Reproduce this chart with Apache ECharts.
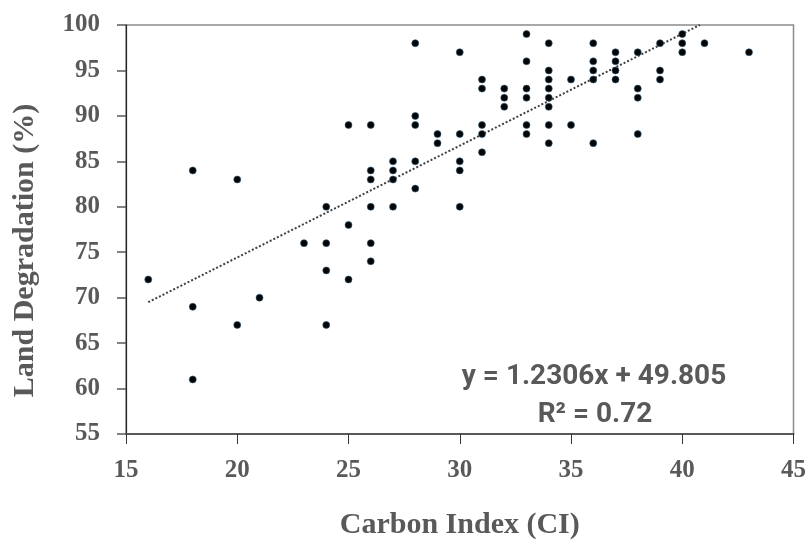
<!DOCTYPE html>
<html>
<head>
<meta charset="utf-8">
<script src="https://cdn.jsdelivr.net/npm/echarts@6/dist/echarts.min.js"></script>
<style>
html,body{margin:0;padding:0;background:#ffffff;}
#chart{width:809px;height:545px;}
</style>
</head>
<body>
<div id="chart"></div>
<script>
// Scatter data
const carbonIndex = [
  16,
  18, 18, 18,
  20, 20,
  21,
  23,
  24, 24, 24, 24,
  25, 25, 25,
  26, 26, 26, 26, 26, 26,
  27, 27, 27, 27,
  28, 28, 28, 28, 28,
  29, 29,
  30, 30, 30, 30, 30,
  31, 31, 31, 31, 31,
  32, 32, 32,
  33, 33, 33, 33, 33, 33,
  34, 34, 34, 34, 34, 34, 34, 34,
  35, 35,
  36, 36, 36, 36, 36,
  37, 37, 37, 37,
  38, 38, 38, 38,
  39, 39, 39,
  40, 40, 40,
  41,
  43
];
const landDegradation = [
  72,
  84, 69, 61,
  83, 67,
  70,
  76,
  80, 76, 73, 67,
  89, 78, 72,
  89, 84, 83, 80, 76, 74,
  85, 84, 83, 80,
  98, 90, 89, 85, 82,
  88, 87,
  97, 88, 85, 84, 80,
  94, 93, 89, 88, 86,
  93, 92, 91,
  99, 96, 93, 92, 89, 88,
  98, 95, 94, 93, 92, 91, 89, 87,
  94, 89,
  98, 96, 95, 94, 87,
  97, 96, 95, 94,
  97, 93, 92, 88,
  98, 95, 94,
  99, 98, 97,
  98,
  97
];
// Trend line end points
const trendX = [16, 40.79];
const trendY = [69.5, 100];
// Axis ranges
const xRange = [15, 45];
const yRange = [55, 100];
const tickStep = 5;
const equationLines = ['y = 1.2306x + 49.805', 'R\u00B2 = 0.72'];
const xTitle = 'Carbon Index (CI)';
const yTitle = 'Land Degradation (%)';

const scatterData = carbonIndex.map((x, i) => [x, landDegradation[i]]);
const trendData = trendX.map((x, i) => [x, trendY[i]]);

const chart = echarts.init(document.getElementById('chart'), null, {renderer: 'canvas'});
const labelFont = {fontFamily: 'Liberation Serif', fontWeight: 'bold', fontSize: 25, color: '#595959'};

chart.setOption({
  animation: false,
  backgroundColor: '#ffffff',
  grid: {
    left: 126, right: 13, top: 25, bottom: 108,
    show: true, borderColor: '#8c8c8c', borderWidth: 1.5, backgroundColor: 'transparent'
  },
  xAxis: {
    type: 'value', min: xRange[0], max: xRange[1], interval: tickStep,
    name: xTitle, nameLocation: 'middle', nameGap: 76,
    nameTextStyle: {fontFamily: 'Liberation Serif', fontWeight: 'bold', fontSize: 30, color: '#595959'},
    axisLine: {show: true, onZero: false, lineStyle: {color: '#595959', width: 2}},
    axisTick: {show: true, inside: false, length: 10, lineStyle: {color: '#333333', width: 1}},
    axisLabel: Object.assign({margin: 24}, labelFont),
    splitLine: {show: false}
  },
  yAxis: {
    type: 'value', min: yRange[0], max: yRange[1], interval: tickStep,
    name: yTitle, nameLocation: 'middle', nameGap: 86, nameRotate: 90,
    nameTextStyle: {fontFamily: 'Liberation Serif', fontWeight: 'bold', fontSize: 30, color: '#595959', padding: [0, 42, 0, 0]},
    axisLine: {show: true, onZero: false, lineStyle: {color: '#262626', width: 1.2}},
    axisTick: {show: true, inside: false, length: 9, lineStyle: {color: '#595959', width: 1.5}},
    axisLabel: Object.assign({margin: 26}, labelFont),
    splitLine: {show: false}
  },
  series: [
    {
      type: 'line',
      data: trendData,
      showSymbol: false,
      symbol: 'none',
      silent: true,
      lineStyle: {color: '#404040', width: 2, type: [2, 2]},
      z: 1
    },
    {
      type: 'scatter',
      data: scatterData,
      symbol: 'circle',
      symbolSize: 7,
      itemStyle: {color: '#050505', borderColor: '#2f5d7a', borderWidth: 0.6, opacity: 1},
      z: 2
    }
  ],
  graphic: [
    {
      type: 'text', x: 594, y: 377, z: 10,
      style: {text: equationLines[0], align: 'center', verticalAlign: 'middle',
        fontFamily: 'Roboto', fontWeight: 'bold', fontSize: 28, fill: '#595959'}
    },
    {
      type: 'text', x: 595, y: 415, z: 10,
      style: {text: equationLines[1], align: 'center', verticalAlign: 'middle',
        fontFamily: 'Roboto', fontWeight: 'bold', fontSize: 28, fill: '#595959'}
    }
  ]
});
</script>
</body>
</html>
